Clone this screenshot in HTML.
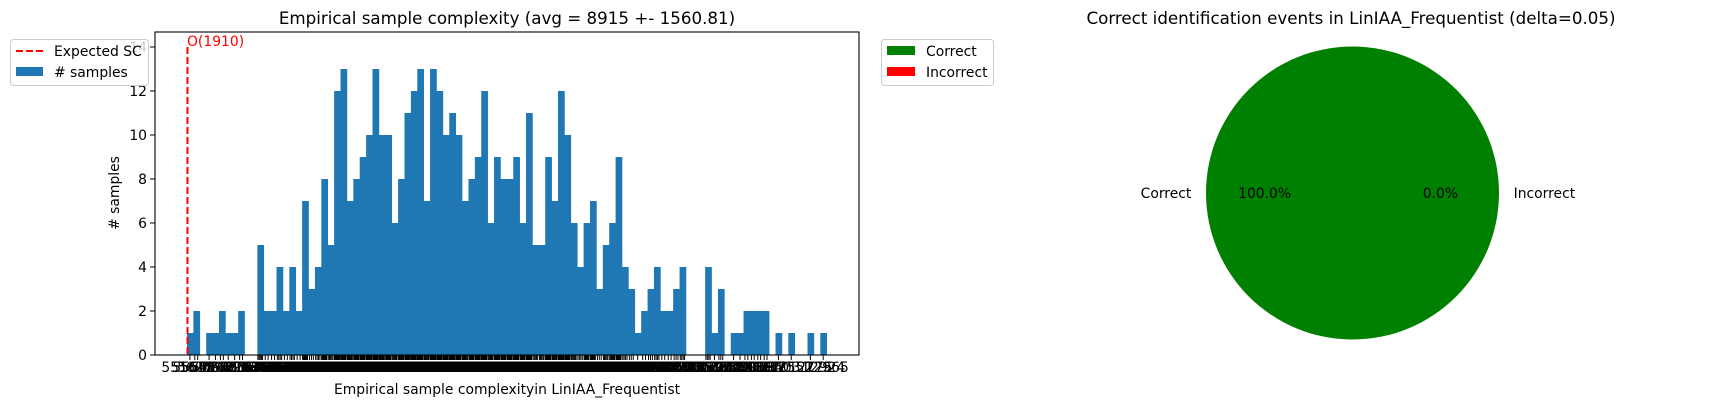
<!DOCTYPE html>
<html><head><meta charset="utf-8"><style>
body{margin:0;background:#fff;}
svg{display:block;font-family:"DejaVu Sans","Liberation Sans",sans-serif;}
</style></head><body>
<svg id="chart" width="1718" height="408" viewBox="0 0 1718 408" xmlns="http://www.w3.org/2000/svg">
<g id="hist"></g>
<g id="pie"></g>
</svg>
<script>
const counts=[1,2,0,1,1,2,1,1,2,0,0,5,2,2,4,2,4,2,7,3,4,8,5,12,13,7,8,9,10,13,10,10,6,8,11,12,13,7,13,12,10,11,10,7,8,9,12,6,9,8,8,9,6,11,5,5,9,7,12,10,6,4,6,7,3,5,6,9,4,3,1,2,3,4,2,2,3,4,0,0,0,4,1,3,0,1,1,2,2,2,2,0,1,0,1,0,0,1,0,1];
const yTicks=[0,2,4,6,8,10,12,14];
const xMin=5516, xMax=12965;
const expectedSC=[1910];
const pieLabels=["Correct","Incorrect"];
const pieValues=[100,0];
const pieColors=["#008000","#ff0000"];

const NS="http://www.w3.org/2000/svg";
function mk(tag,attrs,parent,text){const e=document.createElementNS(NS,tag);for(const k in attrs)e.setAttribute(k,attrs[k]);if(text!==undefined)e.textContent=text;parent.appendChild(e);return e;}

const H=document.getElementById('hist');
const L=155,R=859,T=32,B=355;
const bx0=187,bx1=826.7;
const yMax=14.0;
const ys=v=>B-(v/yMax)*(B-47);
const xs=v=>bx0+(v-xMin)/(xMax-xMin)*(bx1-bx0);
const bw=(xMax-xMin)/counts.length;

// bars
counts.forEach((c,i)=>{
  if(c<=0)return;
  const x0=xs(xMin+i*bw), x1=xs(xMin+(i+1)*bw);
  const r=mk('rect',{x:x0,y:ys(c),width:x1-x0+0.3,height:B-ys(c),fill:'#1f77b4'},H);
  
  
});
// expected SC line
const dl=mk('line',{x1:bx0+0.5,x2:bx0+0.5,y1:ys(14),y2:B,stroke:'#ff0000','stroke-width':2,'stroke-dasharray':'7,3'},H);


const ot=mk('text',{x:bx0,y:46,fill:'#ff0000','font-size':13.9},H,'O('+expectedSC[0]+')');


// axes frame
const fr=mk('rect',{x:L,y:T,width:R-L,height:B-T,fill:'none',stroke:'#000','stroke-width':1.1},H);


// y ticks
yTicks.forEach(v=>{
  const y=ys(v);
  mk('line',{x1:L-5,x2:L,y1:y,y2:y,stroke:'#000','stroke-width':1},H);
  const t=mk('text',{x:L-8,y:y+5,'text-anchor':'end','font-size':13.9,fill:'#000'},H,String(v));
  
  
});
// x ticks (one per sample)
const xg=mk('g',{},H);


counts.forEach((c,i)=>{
  for(let k=0;k<c;k++){
    const v=Math.round(xMin+i*bw+(k+0.5)/c*bw*0.9);
    const x=xs(v);
    mk('line',{x1:x,x2:x,y1:B,y2:B+5,stroke:'#000','stroke-width':1},xg);
    mk('text',{x:x,y:372,'text-anchor':'middle','font-size':13.9,fill:'#000'},xg,String(v));
  }
});
mk('text',{x:xs(xMin)-8,y:372,'text-anchor':'middle','font-size':13.9},xg,String(xMin));
mk('text',{x:xs(xMax),y:372,'text-anchor':'middle','font-size':13.9},xg,String(xMax));
const ttl=mk('text',{x:507,y:24,'text-anchor':'middle','font-size':16.7},H,'Empirical sample complexity (avg = 8915 +- 1560.81)');


const xl=mk('text',{x:507,y:394,'text-anchor':'middle','font-size':13.9},H,'Empirical sample complexityin LinIAA_Frequentist');


const yl=mk('text',{x:0,y:0,'text-anchor':'middle','font-size':13.9,transform:'translate(119,193) rotate(-90)'},H,'# samples');


// histogram legend
const lg=mk('g',{},H);


mk('rect',{x:10.5,y:39.5,width:138,height:46,rx:3,fill:'#fff','fill-opacity':0.8,stroke:'#ccc'},lg);
mk('line',{x1:16,x2:43,y1:51,y2:51,stroke:'#ff0000','stroke-width':2,'stroke-dasharray':'7,3'},lg);
mk('text',{x:54,y:56,'font-size':13.9},lg,'Expected SC');
mk('rect',{x:16,y:67,width:27,height:9,fill:'#1f77b4'},lg);
mk('text',{x:54,y:77,'font-size':13.9},lg,'# samples');

// pie
const P=document.getElementById('pie');
const cx=1352.5,cy=193,r=146.5;
const total=pieValues.reduce((a,b)=>a+b,0);
let ang=0;
pieValues.forEach((v,i)=>{
  const frac=v/total;
  let el;
  if(frac>=0.9999){el=mk('circle',{cx:cx,cy:cy,r:r,fill:pieColors[i]},P);}
  else if(frac>0){
    const a0=ang*2*Math.PI,a1=(ang+frac)*2*Math.PI;
    const p=`M${cx},${cy} L${cx+r*Math.cos(a0)},${cy-r*Math.sin(a0)} A${r},${r} 0 ${frac>0.5?1:0} 0 ${cx+r*Math.cos(a1)},${cy-r*Math.sin(a1)} Z`;
    el=mk('path',{d:p,fill:pieColors[i]},P);
  }
  if(el){
  }
  ang+=frac;
});
// labels (matplotlib: first slice from angle 0 counter-clockwise)
ang=0;
pieValues.forEach((v,i)=>{
  const frac=v/total;const mid=(ang+frac/2)*2*Math.PI;
  const lx=cx+1.1*r*Math.cos(mid), pct=cx+0.6*r*Math.cos(mid);
  const ly=cy-1.1*r*Math.sin(mid);
  const t=mk('text',{x:lx,y:ly+5,'text-anchor':Math.cos(mid)<0?'end':'start','font-size':13.9},P,pieLabels[i]);
  
  
  const q=mk('text',{x:pct,y:cy-0.6*r*Math.sin(mid)+5,'text-anchor':'middle','font-size':13.9},P,v.toFixed(1)+'%');
  
  
  ang+=frac;
});
const pt=mk('text',{x:1351,y:24,'text-anchor':'middle','font-size':16.7},P,'Correct identification events in LinIAA_Frequentist (delta=0.05)');


const pl=mk('g',{},P);


mk('rect',{x:881.5,y:39.5,width:112,height:46,rx:3,fill:'#fff',stroke:'#ccc'},pl);
pieLabels.forEach((lab,i)=>{
  mk('rect',{x:887,y:46+i*21,width:28,height:9,fill:pieColors[i]},pl);
  mk('text',{x:926,y:56+i*21,'font-size':13.9},pl,lab);
});
</script>
</body></html>
